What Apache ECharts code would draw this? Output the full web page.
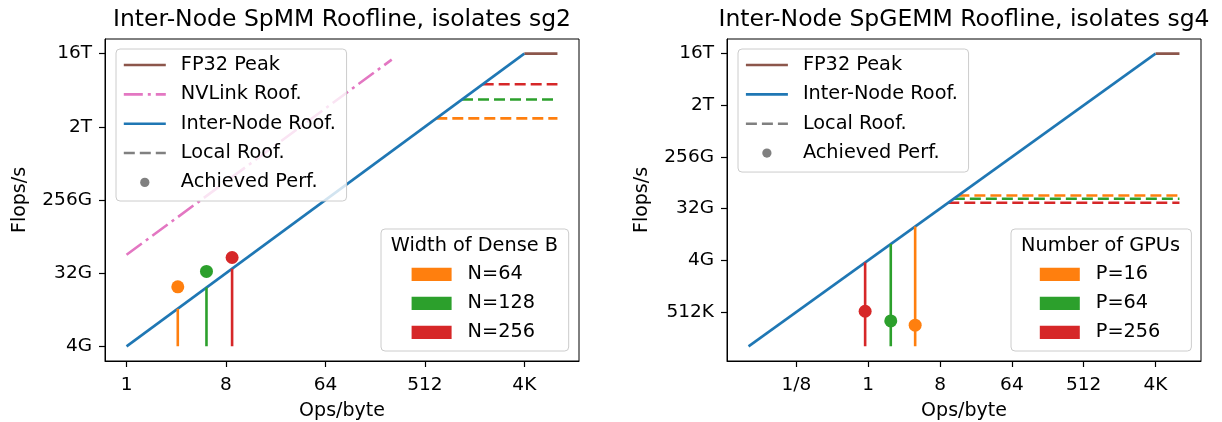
<!DOCTYPE html>
<html>
<head>
<meta charset="utf-8">
<script src="https://cdn.jsdelivr.net/npm/echarts@6/dist/echarts.min.js"></script>
<style>html,body{margin:0;padding:0;background:#fff}#c{width:1222px;height:422px}</style>
</head>
<body>
<div id="c"></div>
<script>
const M = 2 ** 20, G = 2 ** 30, T = 2 ** 40;

// ---------- Left panel: SpMM ----------
const spmmTitle = 'Inter-Node SpMM Roofline, isolates sg2';
const spmmXTicks = [1, 8, 64, 512, 4096];
const spmmXTickLabels = ['1', '8', '64', '512', '4K'];
const spmmYTicks = [4 * G, 32 * G, 256 * G, 2 * T, 16 * T];
const spmmYTickLabels = ['4G', '32G', '256G', '2T', '16T'];
const spmmXRange = [1, 8192];
const spmmPeak = 16 * T;
const spmmInterNodeBW = 4 * G;
const spmmNvlinkBW = 54 * G;
const spmmNvlinkXRange = [1, 256];
const spmmGroups = ['N=64', 'N=128', 'N=256'];
const spmmLocalRoof = [2.54 * T, 4.35 * T, 6.7 * T];
const spmmIntensity = [2.92, 5.32, 9.09];
const spmmAchieved = [21.7 * G, 33.6 * G, 50 * G];
const spmmLegendTitle = 'Width of Dense B';

// ---------- Right panel: SpGEMM ----------
const spgemmTitle = 'Inter-Node SpGEMM Roofline, isolates sg4';
const spgemmXTicks = [1 / 8, 1, 8, 64, 512, 4096];
const spgemmXTickLabels = ['1/8', '1', '8', '64', '512', '4K'];
const spgemmYTicks = [512 * M, 4 * G, 32 * G, 256 * G, 2 * T, 16 * T];
const spgemmYTickLabels = ['512K', '4G', '32G', '256G', '2T', '16T'];
const spgemmXRange = [1 / 32, 8192];
const spgemmPeak = 16 * T;
const spgemmInterNodeBW = 4 * G;
const spgemmGroups = ['P=16', 'P=64', 'P=256'];
const spgemmLocalRoof = [54.4 * G, 47.7 * G, 40.6 * G];
const spgemmIntensity = [3.89, 1.92, 0.914];
const spgemmAchieved = [300 * M, 357 * M, 526 * M];
const spgemmLegendTitle = 'Number of GPUs';

const groupColors = ['#ff7f0e', '#2ca02c', '#d62728'];
const C_BLUE = '#1f77b4', C_BROWN = '#8c564b', C_PINK = '#e377c2', C_GRAY = '#808080';

const FONT = 'DejaVu Sans';
const LW = 2.6;
const DASH = [11, 5];
const DASHDOT = [19, 5, 3, 5];
const L = Math.log2;

const grids = [
  { left: 105, top: 39, width: 474, height: 322 },
  { left: 727, top: 39, width: 474, height: 322 }
];

function labelFor(ticks, labels) {
  const logs = ticks.map(L);
  return v => {
    for (let i = 0; i < logs.length; i++) if (Math.abs(logs[i] - v) < 1e-6) return labels[i];
    return '';
  };
}

const series = [];
const xAxes = [], yAxes = [];

function buildPanel(idx, cfg) {
  const xMinD = L(cfg.xRange[0]), xMaxD = L(cfg.xRange[1]);
  const yMinD = L(cfg.bw * cfg.xRange[0]), yMaxD = L(cfg.peak);
  const xs = xMaxD - xMinD, ys = yMaxD - yMinD;
  const ridge = cfg.peak / cfg.bw;
  const xTickLogs = cfg.xTicks.map(L), yTickLogs = cfg.yTicks.map(L);

  xAxes.push({
    type: 'value', gridIndex: idx, min: xMinD - 0.05 * xs, max: xMaxD + 0.05 * xs,
    name: 'Ops/byte', nameLocation: 'middle', nameGap: 41,
    nameTextStyle: { fontSize: 19, fontFamily: FONT, color: '#000' },
    axisLine: { show: true, onZero: false, lineStyle: { color: '#000', width: 1 } },
    axisTick: { show: true, length: 6, lineStyle: { color: '#000', width: 1.2 }, customValues: xTickLogs.slice() },
    axisLabel: { customValues: xTickLogs.slice(), formatter: labelFor(cfg.xTicks, cfg.xTickLabels), margin: 15,
      fontSize: 18.5, fontFamily: FONT, color: '#000' },
    splitLine: { show: false }
  });
  yAxes.push({
    type: 'value', gridIndex: idx, min: yMinD - 0.05 * ys, max: yMaxD + 0.05 * ys,
    name: 'Flops/s', nameLocation: 'middle', nameGap: 75,
    nameTextStyle: { fontSize: 19, fontFamily: FONT, color: '#000' },
    axisLine: { show: true, onZero: false, lineStyle: { color: '#000', width: 1 } },
    axisTick: { show: true, length: 6, lineStyle: { color: '#000', width: 1.2 }, customValues: yTickLogs.slice() },
    axisLabel: { customValues: yTickLogs.slice(), formatter: labelFor(cfg.yTicks, cfg.yTickLabels), margin: 13,
      fontSize: 18.5, fontFamily: FONT, color: '#000' },
    splitLine: { show: false }
  });

  const base = { xAxisIndex: idx, yAxisIndex: idx, symbol: 'none', silent: true, animation: false };

  // local roofs
  cfg.groups.forEach((g, i) => {
    const start = cfg.localRoof[i] / cfg.bw;
    series.push(Object.assign({}, base, {
      type: 'line', name: g, z: 2, color: groupColors[i],
      lineStyle: { color: groupColors[i], width: LW, type: DASH },
      data: [[L(start), L(cfg.localRoof[i])], [xMaxD, L(cfg.localRoof[i])]]
    }));
  });
  // peak
  series.push(Object.assign({}, base, {
    type: 'line', name: 'FP32 Peak', z: 3, color: C_BROWN,
    lineStyle: { color: C_BROWN, width: LW },
    data: [[L(ridge), L(cfg.peak)], [xMaxD, L(cfg.peak)]]
  }));
  // nvlink
  if (cfg.nvBW) {
    series.push(Object.assign({}, base, {
      type: 'line', name: 'NVLink Roof.', z: 3, color: C_PINK,
      lineStyle: { color: C_PINK, width: LW, type: DASHDOT },
      data: cfg.nvRange.map(x => [L(x), L(cfg.nvBW * x)])
    }));
  }
  // inter-node roof
  series.push(Object.assign({}, base, {
    type: 'line', name: 'Inter-Node Roof.', z: 3, color: C_BLUE,
    lineStyle: { color: C_BLUE, width: LW },
    data: [[xMinD, L(cfg.bw * cfg.xRange[0])], [L(ridge), L(cfg.peak)]]
  }));
  // vertical lines + achieved points
  cfg.groups.forEach((g, i) => {
    const x = cfg.intensity[i];
    series.push(Object.assign({}, base, {
      type: 'line', name: g, z: 4, color: groupColors[i],
      lineStyle: { color: groupColors[i], width: LW },
      data: [[L(x), yMinD], [L(x), L(cfg.bw * x)]]
    }));
    series.push({
      type: 'scatter', name: g, xAxisIndex: idx, yAxisIndex: idx, z: 5, silent: true, animation: false,
      symbol: 'circle', symbolSize: 13, itemStyle: { color: groupColors[i], opacity: 1 },
      data: [[L(x), L(cfg.achieved[i])]]
    });
  });
}

buildPanel(0, {
  xRange: spmmXRange, peak: spmmPeak, bw: spmmInterNodeBW, nvBW: spmmNvlinkBW, nvRange: spmmNvlinkXRange,
  xTicks: spmmXTicks, xTickLabels: spmmXTickLabels, yTicks: spmmYTicks, yTickLabels: spmmYTickLabels,
  groups: spmmGroups, localRoof: spmmLocalRoof, intensity: spmmIntensity, achieved: spmmAchieved
});
buildPanel(1, {
  xRange: spgemmXRange, peak: spgemmPeak, bw: spgemmInterNodeBW,
  xTicks: spgemmXTicks, xTickLabels: spgemmXTickLabels, yTicks: spgemmYTicks, yTickLabels: spgemmYTickLabels,
  groups: spgemmGroups, localRoof: spgemmLocalRoof, intensity: spgemmIntensity, achieved: spgemmAchieved
});

// legend proxies
series.push({ type: 'line', name: 'Local Roof.', xAxisIndex: 0, yAxisIndex: 0, symbol: 'none', color: C_GRAY,
  lineStyle: { color: C_GRAY, width: LW, type: DASH }, data: [] });
series.push({ type: 'line', name: 'Achieved Perf.', xAxisIndex: 0, yAxisIndex: 0, symbol: 'circle', color: C_GRAY,
  itemStyle: { color: C_GRAY }, lineStyle: { color: C_GRAY, width: LW, opacity: 0 }, data: [] });

const legendText = { fontSize: 19.3, fontFamily: FONT, color: '#000', lineHeight: 20, padding: [0, 0, 0, 10] };
const legendBox = { backgroundColor: 'rgba(255,255,255,0.8)', borderColor: '#cccccc', borderWidth: 1, borderRadius: 4,
  selectedMode: false, orient: 'vertical', align: 'left' };

function roofItems(names) {
  return names.map(n => {
    if (n === 'Achieved Perf.') return { name: n, lineStyle: { opacity: 0 }, itemStyle: { borderWidth: 0, opacity: 1 } };
    const ls = { width: LW, type: n === 'Local Roof.' ? DASH : (n === 'NVLink Roof.' ? DASHDOT : 'solid') };
    return { name: n, lineStyle: ls, itemStyle: { opacity: 0, borderWidth: 0 } };
  });
}
function groupItems(names) { return names.map(n => ({ name: n, icon: 'rect', itemStyle: { borderWidth: 0 } })); }

const legends = [
  Object.assign({}, legendBox, {
    left: 116, top: 49, itemWidth: 42, itemHeight: 11.6, itemGap: 9.35, padding: [6, 10.7, 8.6, 6.5],
    textStyle: legendText,
    data: roofItems(['FP32 Peak', 'NVLink Roof.', 'Inter-Node Roof.', 'Local Roof.', 'Achieved Perf.'])
  }),
  Object.assign({}, legendBox, {
    left: 381, top: 229, itemWidth: 40, itemHeight: 13.3, itemGap: 9, padding: [35.3, 33.7, 8.7, 30.6],
    textStyle: Object.assign({}, legendText, { padding: [0, 0, 0, 11] }),
    data: groupItems(spmmGroups)
  }),
  Object.assign({}, legendBox, {
    left: 738, top: 49, itemWidth: 42, itemHeight: 11.6, itemGap: 9.35, padding: [6, 10.6, 9, 6.6],
    textStyle: legendText,
    data: roofItems(['FP32 Peak', 'Inter-Node Roof.', 'Local Roof.', 'Achieved Perf.'])
  }),
  Object.assign({}, legendBox, {
    left: 1011, top: 229, itemWidth: 40, itemHeight: 13.3, itemGap: 9, padding: [35.3, 31, 8.7, 28.8],
    textStyle: Object.assign({}, legendText, { padding: [0, 0, 0, 11] }),
    data: groupItems(spgemmGroups)
  })
];

const titleStyle = { fontSize: 23.5, fontWeight: 'normal', fontFamily: FONT, color: '#000' };
const option = {
  animation: false,
  backgroundColor: '#fff',
  title: [
    { text: spmmTitle, left: 342, top: 7.5, textAlign: 'center', padding: 0, textStyle: titleStyle },
    { text: spgemmTitle, left: 964, top: 7.5, textAlign: 'center', padding: 0, textStyle: titleStyle }
  ],
  grid: grids.map(g => Object.assign({ show: true, borderColor: '#000', borderWidth: 1, outerBoundsMode: 'none' }, g)),
  xAxis: xAxes,
  yAxis: yAxes,
  legend: legends,
  graphic: [
    { type: 'text', x: 474.4, y: 245.5, z: 100, silent: true,
      style: { text: spmmLegendTitle, fontSize: 19.3, fontFamily: FONT, fill: '#000', align: 'center', verticalAlign: 'middle' } },
    { type: 'text', x: 1100.5, y: 245.5, z: 100, silent: true,
      style: { text: spgemmLegendTitle, fontSize: 19.3, fontFamily: FONT, fill: '#000', align: 'center', verticalAlign: 'middle' } }
  ],
  series: series
};

const chart = echarts.init(document.getElementById('c'), null, { renderer: 'canvas' });
chart.setOption(option);
</script>
</body>
</html>
